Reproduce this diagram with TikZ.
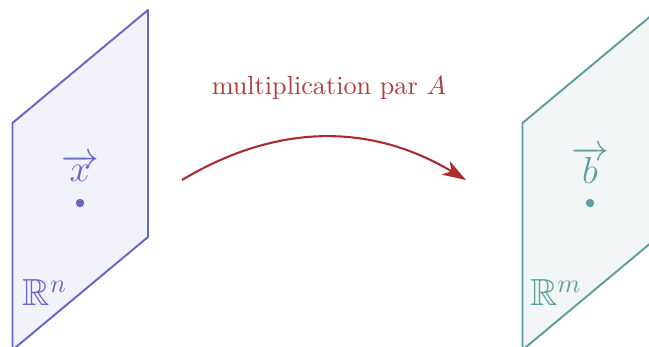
\documentclass[tikz,border=0pt]{standalone}
\usepackage{amssymb}
\usetikzlibrary{arrows.meta}
\definecolor{planeA}{RGB}{102,102,204}
\definecolor{fillA}{RGB}{241,242,250}
\definecolor{planeB}{RGB}{95,158,160}
\definecolor{fillB}{RGB}{242,246,246}
\definecolor{arr}{RGB}{170,45,45}
\definecolor{lbl}{RGB}{176,60,60}
\tikzset{
  plane/.style={line width=0.75pt, line join=round},
  pt/.style={circle, inner sep=0pt, minimum size=3.2pt},
  vec/.style={inner sep=0pt, font=\Large},
  space/.style={inner sep=0pt, font=\Large},
}
\begin{document}
\begin{tikzpicture}[x=0.3817pt,y=-0.3817pt]
\useasboundingbox (0,0) rectangle (649,347);
\clip (0,0) rectangle (649,347);
% left plane
\draw[plane, draw=planeA, fill=fillA] (12.5,123) -- (148,10) -- (148,237) -- (12.5,350) -- cycle;
\node[vec, text=planeA] (x) at (80,168) {$\overrightarrow{x}$};
\node[pt, fill=planeA] (xd) at (80,203) {};
\node[space, text=planeA] (Rn) at (45,293) {$\mathbb{R}^n$};
% right plane
\draw[plane, draw=planeB, fill=fillB] (522.5,123) -- (658,10) -- (658,237) -- (522.5,350) -- cycle;
\node[vec, text=planeB] (b) at (590,165) {$\overrightarrow{b}$};
\node[pt, fill=planeB] (bd) at (590,203) {};
\node[space, text=planeB] (Rm) at (556,293) {$\mathbb{R}^m$};
% arrow
\coordinate (s) at (182,180);
\coordinate (t) at (466,180);
\draw[arr, line width=0.8pt, -{Stealth[length=9pt,width=6pt,inset=2.5pt]}]
  (s) .. controls (277,123) and (371,123) .. (t);
\node[text=lbl, inner sep=0pt] (lab) at (329,88) {multiplication par $A$};
\end{tikzpicture}
\end{document}
